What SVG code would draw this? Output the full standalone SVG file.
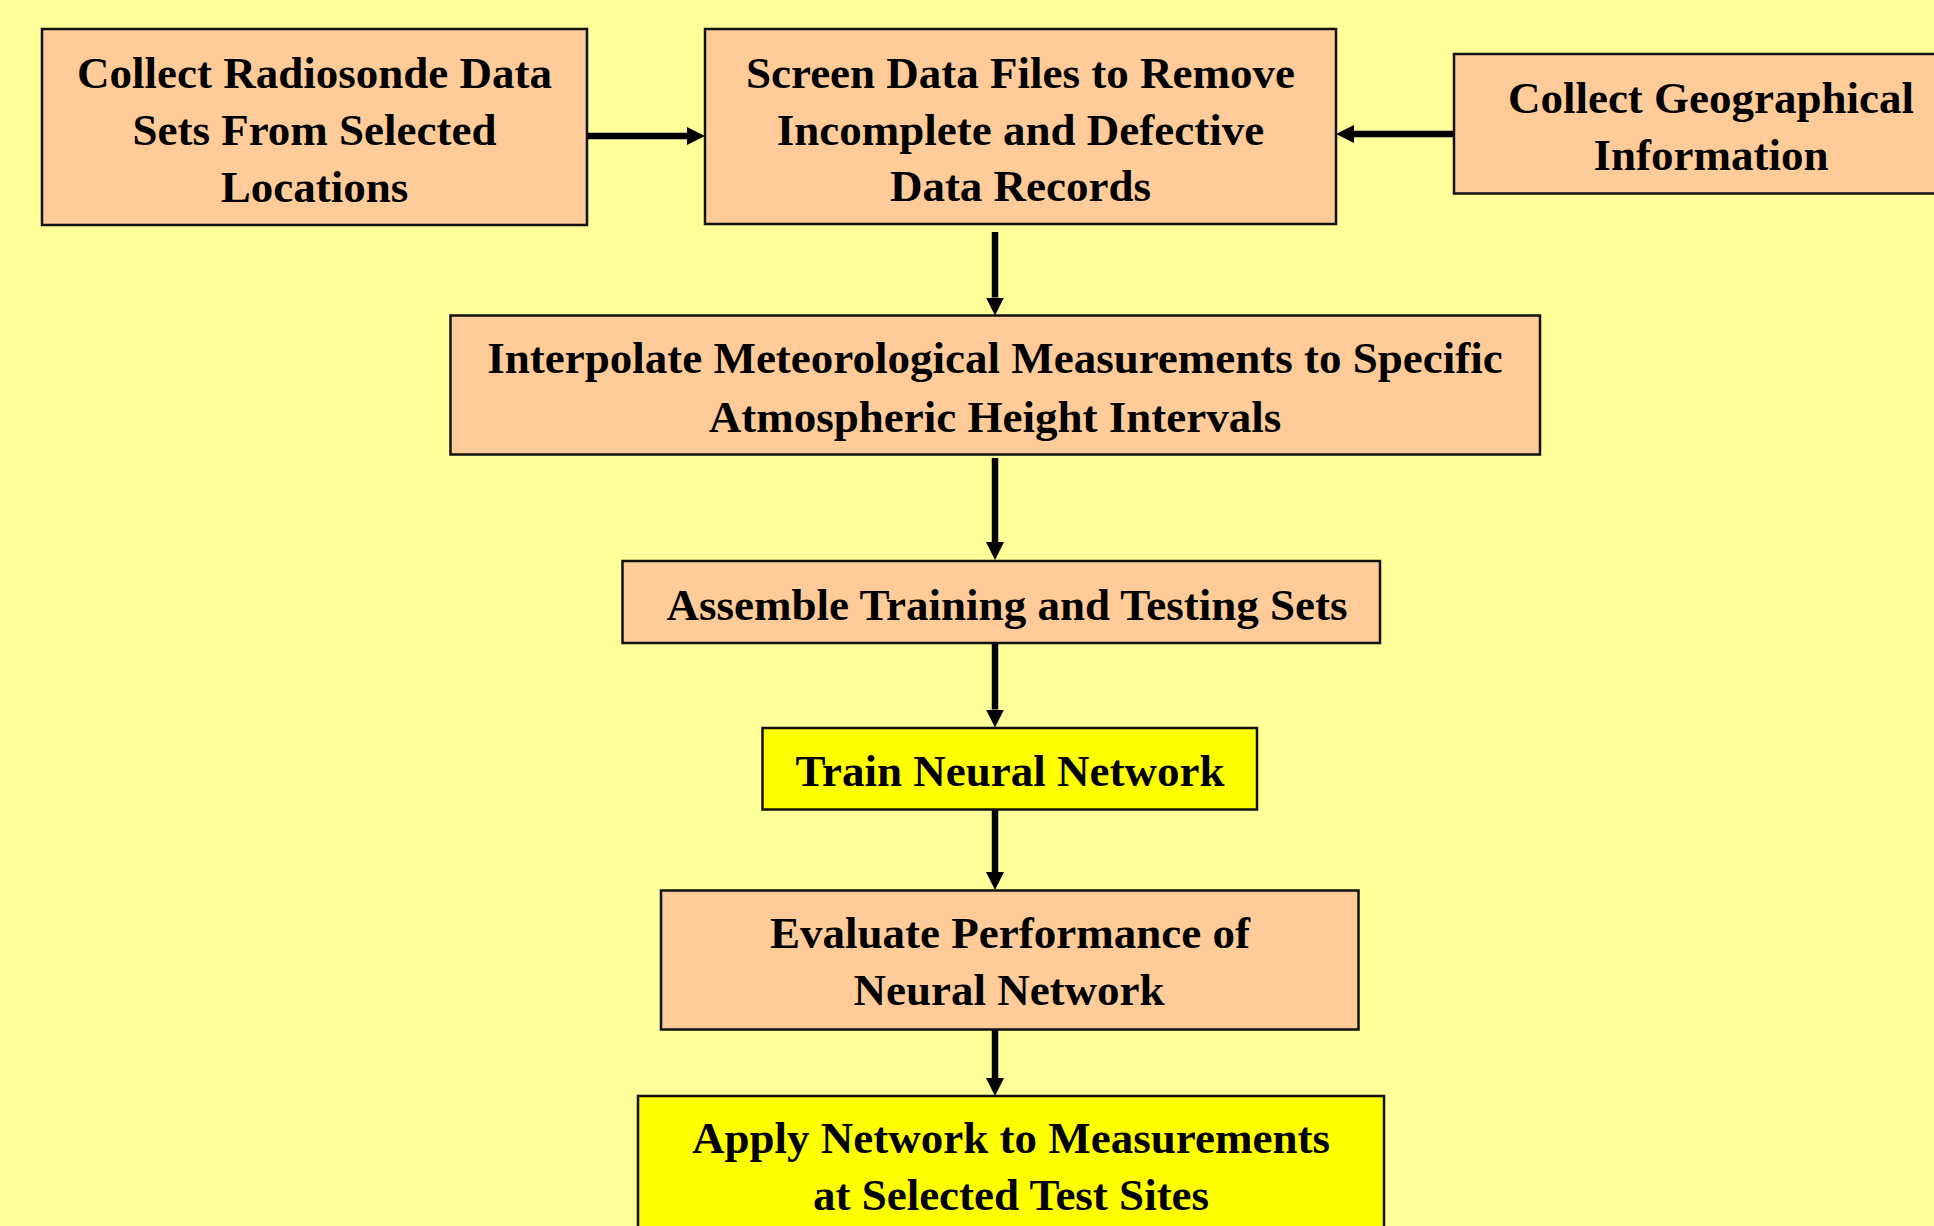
<svg xmlns="http://www.w3.org/2000/svg" width="1934" height="1226" viewBox="0 0 1934 1226">
  <style>
    .box { stroke: #111; stroke-width: 2.5; }
    .peach { fill: #FFCC99; }
    .yellow { fill: #FFFF00; }
    .lbl { font-family: "Liberation Serif", "Times New Roman", serif; font-weight: bold; font-size: 45px; fill: #000; text-anchor: middle; }
    .conn { stroke: #000; stroke-width: 6.5; fill: none; }
  </style>
  <defs>
    <marker id="arrow" markerUnits="userSpaceOnUse" markerWidth="18" markerHeight="18" refX="0" refY="9" orient="auto">
      <path d="M0,0 L18,9 L0,18 z" fill="#000"/>
    </marker>
  </defs>
  <rect x="0" y="0" width="1934" height="1226" fill="#FFFF99"/>

  <g id="connectors">
    <path class="conn" d="M587,136 L687,136" marker-end="url(#arrow)"/>
    <path class="conn" d="M1454,134 L1354,134" marker-end="url(#arrow)"/>
    <path class="conn" d="M995,232 L995,297.5" marker-end="url(#arrow)"/>
    <path class="conn" d="M995,458 L995,542" marker-end="url(#arrow)"/>
    <path class="conn" d="M995,644 L995,709.5" marker-end="url(#arrow)"/>
    <path class="conn" d="M995,810 L995,872" marker-end="url(#arrow)"/>
    <path class="conn" d="M995,1030 L995,1078" marker-end="url(#arrow)"/>
  </g>

  <g id="collect-radiosonde">
    <rect class="box peach" x="42" y="29" width="545" height="196"/>
    <text class="lbl" x="314.5" y="87.5">Collect Radiosonde Data</text>
    <text class="lbl" x="314.5" y="144.5">Sets From Selected</text>
    <text class="lbl" x="314.5" y="201.5">Locations</text>
  </g>

  <g id="screen-data">
    <rect class="box peach" x="705" y="29" width="631" height="195"/>
    <text class="lbl" x="1020.5" y="87.5">Screen Data Files to Remove</text>
    <text class="lbl" x="1020.5" y="144.5">Incomplete and Defective</text>
    <text class="lbl" x="1020.5" y="201">Data Records</text>
  </g>

  <g id="collect-geo">
    <rect class="box peach" x="1454" y="54" width="520" height="139.5"/>
    <text class="lbl" x="1711" y="112.5">Collect Geographical</text>
    <text class="lbl" x="1711" y="169.5">Information</text>
  </g>

  <g id="interpolate">
    <rect class="box peach" x="450.5" y="315.5" width="1089.5" height="139"/>
    <text class="lbl" x="995" y="372.5">Interpolate Meteorological Measurements to Specific</text>
    <text class="lbl" x="995" y="431.5">Atmospheric Height Intervals</text>
  </g>

  <g id="assemble">
    <rect class="box peach" x="622.5" y="561" width="757.5" height="82"/>
    <text class="lbl" x="1007" y="620">Assemble Training and Testing Sets</text>
  </g>

  <g id="train">
    <rect class="box yellow" x="762.5" y="728" width="494.5" height="81.5"/>
    <text class="lbl" x="1010" y="785.5">Train Neural Network</text>
  </g>

  <g id="evaluate">
    <rect class="box peach" x="661" y="890.5" width="697.5" height="139"/>
    <text class="lbl" x="1010" y="948">Evaluate Performance of</text>
    <text class="lbl" x="1009" y="1005">Neural Network</text>
  </g>

  <g id="apply">
    <rect class="box yellow" x="638" y="1096" width="746" height="150"/>
    <text class="lbl" x="1011" y="1153">Apply Network to Measurements</text>
    <text class="lbl" x="1011" y="1210">at Selected Test Sites</text>
  </g>
</svg>
